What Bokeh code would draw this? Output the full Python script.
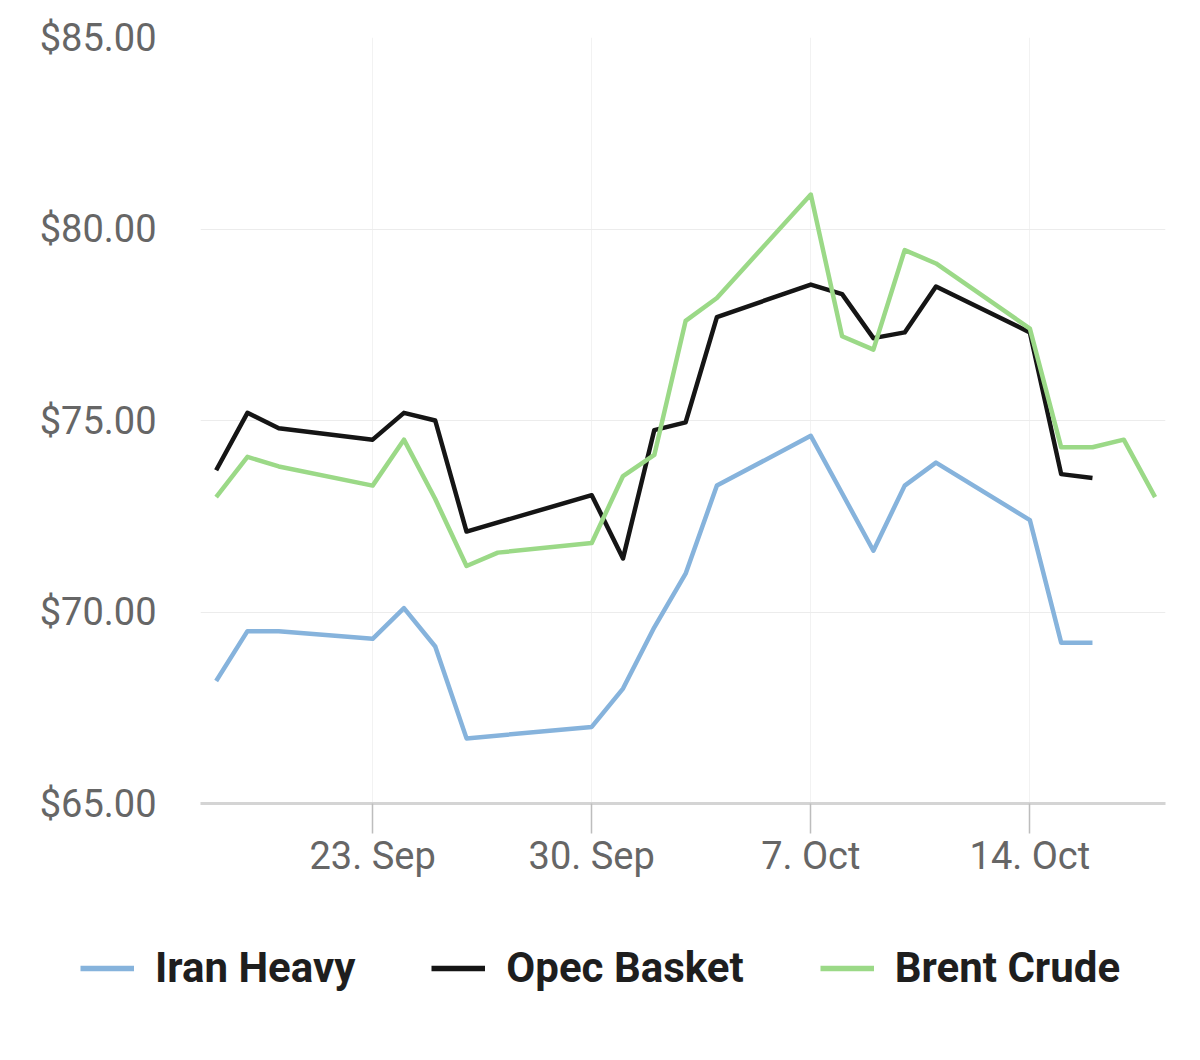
from datetime import datetime
import pandas as pd
from bokeh.plotting import figure
from bokeh.layouts import column
from bokeh.models import (Range1d, FixedTicker, DatetimeTickFormatter,
                          NumeralTickFormatter, Legend, LegendItem, ColumnDataSource)
from bokeh.embed import file_html
from bokeh.resources import INLINE

# ---------------- data ----------------
brent_dates = ["2024-09-18", "2024-09-19", "2024-09-20", "2024-09-23", "2024-09-24",
               "2024-09-25", "2024-09-26", "2024-09-27", "2024-09-30", "2024-10-01",
               "2024-10-02", "2024-10-03", "2024-10-04", "2024-10-07", "2024-10-08",
               "2024-10-09", "2024-10-10", "2024-10-11", "2024-10-14", "2024-10-15",
               "2024-10-16", "2024-10-17", "2024-10-18"]
brent_values = [73.0, 74.05, 73.8, 73.3, 74.5, 72.95, 71.2, 71.55, 71.8, 73.55,
                74.1, 77.6, 78.2, 80.9, 77.2, 76.85, 79.45, 79.1, 77.4, 74.3,
                74.3, 74.5, 73.0]

opec_dates = ["2024-09-18", "2024-09-19", "2024-09-20", "2024-09-23", "2024-09-24",
              "2024-09-25", "2024-09-26", "2024-09-30", "2024-10-01", "2024-10-02",
              "2024-10-03", "2024-10-04", "2024-10-07", "2024-10-08", "2024-10-09",
              "2024-10-10", "2024-10-11", "2024-10-14", "2024-10-15", "2024-10-16"]
opec_values = [73.7, 75.2, 74.8, 74.5, 75.2, 75.0, 72.1, 73.05, 71.4, 74.75,
               74.95, 77.7, 78.55, 78.3, 77.15, 77.3, 78.5, 77.3, 73.6, 73.5]

iran_dates = list(opec_dates)
iran_values = [68.2, 69.5, 69.5, 69.3, 70.1, 69.1, 66.7, 67.0, 68.0, 69.6,
               71.0, 73.3, 74.6, 73.1, 71.6, 73.3, 73.9, 72.4, 69.2, 69.2]

series_names = ["Iran Heavy", "Opec Basket", "Brent Crude"]
tick_dates = ["2024-09-23", "2024-09-30", "2024-10-07", "2024-10-14"]
y_ticks = [65, 70, 75, 80, 85]

colors = ["#86b3dc", "#151515", "#9bd987"]
LW = 4.5

# ---------------- main chart ----------------
p = figure(x_axis_type="datetime",
           frame_width=965, frame_height=766,
           min_border_left=200, min_border_top=37,
           min_border_right=25, min_border_bottom=97,
           x_range=Range1d(datetime(2024, 9, 17, 12), datetime(2024, 10, 18, 8)),
           y_range=Range1d(65, 85),
           output_backend="svg", toolbar_location=None)

p.outline_line_color = None
p.background_fill_color = "white"
p.border_fill_color = "white"

datasets = [(iran_dates, iran_values), (opec_dates, opec_values), (brent_dates, brent_values)]
for (d, v), c in zip(datasets, colors):
    src = ColumnDataSource(dict(x=pd.to_datetime(d), y=v))
    p.line("x", "y", source=src, line_color=c, line_width=LW, line_join="round")

# x axis
p.xaxis.ticker = FixedTicker(ticks=[pd.Timestamp(t).value // 10**6 for t in tick_dates])
fmt = "%-d. %b"
p.xaxis.formatter = DatetimeTickFormatter(days=fmt, months=fmt, hours=fmt,
                                          hourmin=fmt, minutes=fmt, years=fmt)
p.xaxis.axis_line_color = "#d4d4d4"
p.xaxis.axis_line_width = 3
p.xaxis.major_tick_line_color = "#bdbdbd"
p.xaxis.major_tick_line_width = 1.5
p.xaxis.major_tick_out = 30
p.xaxis.major_tick_in = 0
p.xaxis.minor_tick_line_color = None
p.xaxis.major_label_standoff = 0
p.xaxis.major_label_text_font = "Roboto"
p.xaxis.major_label_text_font_size = "38px"
p.xaxis.major_label_text_color = "#666666"

# y axis
p.yaxis.ticker = FixedTicker(ticks=y_ticks)
p.yaxis.formatter = NumeralTickFormatter(format="$0.00")
p.yaxis.axis_line_color = None
p.yaxis.major_tick_line_color = None
p.yaxis.minor_tick_line_color = None
p.yaxis.major_label_standoff = 38
p.yaxis.major_label_text_font = "Roboto"
p.yaxis.major_label_text_font_size = "38px"
p.yaxis.major_label_text_color = "#666666"

p.ygrid.grid_line_color = "#ececec"
p.xgrid.grid_line_color = "#f2f2f2"

# ---------------- legend strip ----------------
q = figure(frame_width=1190, frame_height=160,
           min_border_left=0, min_border_right=0, min_border_top=0, min_border_bottom=0,
           x_range=Range1d(0, 1), y_range=Range1d(0, 1),
           x_axis_location=None, y_axis_location=None,
           output_backend="svg", toolbar_location=None)
q.grid.visible = False
q.outline_line_color = None
q.background_fill_color = "white"
q.border_fill_color = "white"

# key renderers sit outside the visible range; only their legend glyphs show
legend_renderers = [q.line(x=[-5, -4], y=[-5, -5], line_color=c, line_width=LW + 0.8)
                    for c in colors]

legend = Legend(items=[LegendItem(label=n, renderers=[r]) for n, r in zip(series_names, legend_renderers)],
                location=(80, 68), orientation="horizontal",
                glyph_width=54, glyph_height=42, label_height=42,
                label_standoff=21, spacing=76, padding=10, margin=0,
                label_text_font="Roboto", label_text_font_style="bold",
                label_text_font_size="42px", label_text_color="#1e1e1e",
                border_line_color=None, background_fill_alpha=0)
q.add_layout(legend)

layout = column(p, q, spacing=0)
open("out.html", "w").write(file_html(layout, INLINE))
